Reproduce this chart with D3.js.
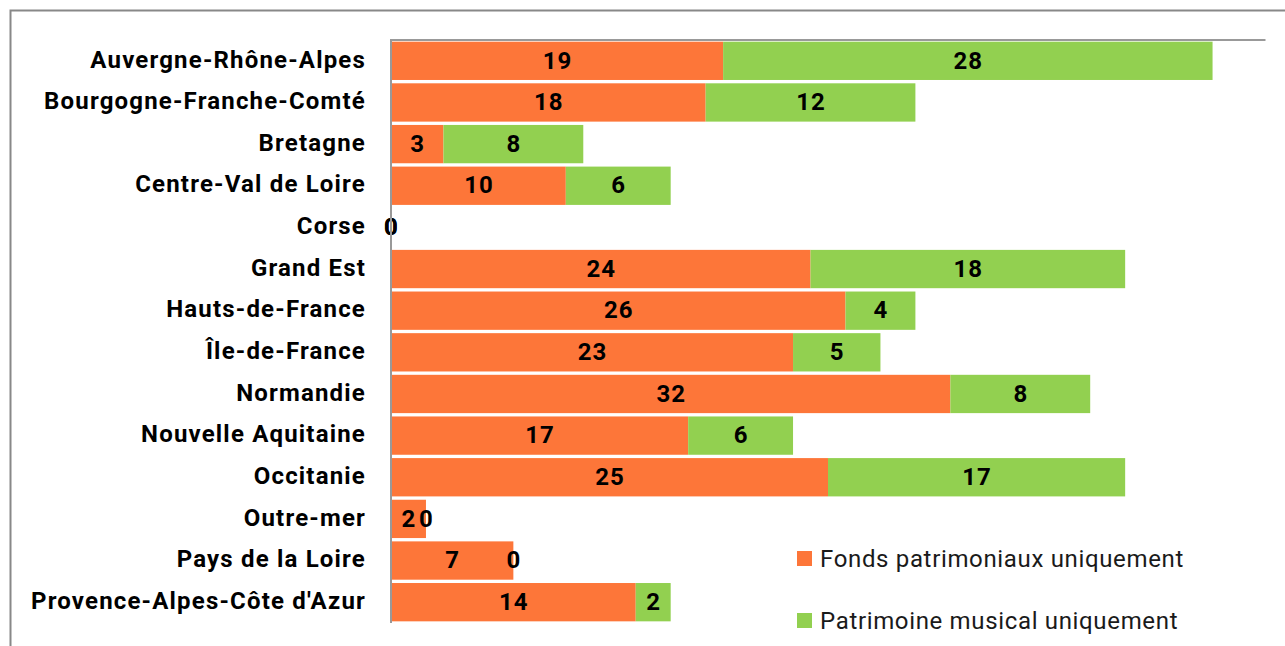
<!DOCTYPE html>
<html><head><meta charset="utf-8">
<script src="https://cdn.jsdelivr.net/npm/d3@7"></script>
<style>body{margin:0;background:#fff}svg{display:block}</style>
</head><body>
<script>
const categories = ["Auvergne-Rhône-Alpes","Bourgogne-Franche-Comté","Bretagne","Centre-Val de Loire","Corse","Grand Est","Hauts-de-France","Île-de-France","Normandie","Nouvelle Aquitaine","Occitanie","Outre-mer","Pays de la Loire","Provence-Alpes-Côte d'Azur"];
const fonds = [19,18,3,10,0,24,26,23,32,17,25,2,7,14];
const musical = [28,12,8,6,0,18,4,5,8,6,17,0,0,2];
const seriesNames = ["Fonds patrimoniaux uniquement","Patrimoine musical uniquement"];
const colors = ["#fd7639","#92d050"];

(function(){
const W=1285,H=646;
const svg=d3.select("body").append("svg").attr("width",W).attr("height",H);
svg.append("path").attr("d","M10.5,646 V10.5 H1285").attr("fill","none").attr("stroke","#888").attr("stroke-width",2);

const x=d3.scaleLinear().domain([0,50]).range([391,1265]);
const y=d3.scaleBand().domain(categories).range([40,623]).paddingInner(0.08).paddingOuter(0.04);

const data=categories.map((c,i)=>({c,a:fonds[i],b:musical[i]}));
const g=svg.append("g");
const font="Roboto, 'Liberation Sans', sans-serif";

data.forEach(d=>{
  g.append("rect").attr("x",x(0)).attr("y",y(d.c)).attr("width",x(d.a)-x(0)).attr("height",y.bandwidth()).attr("fill",colors[0]);
  g.append("rect").attr("x",x(d.a)).attr("y",y(d.c)).attr("width",x(d.a+d.b)-x(d.a)).attr("height",y.bandwidth()).attr("fill",colors[1]);
});
function valLabel(xc,cy,v){
  g.append("text").attr("x",xc).attr("y",cy).attr("dy","0.32em").attr("text-anchor","middle")
   .attr("font-family",font).attr("font-weight","bold").attr("font-size",24).attr("letter-spacing","1px").attr("fill","#000").text(v);
}
data.forEach(d=>{
  const cy=y(d.c)+y.bandwidth()/2;
  valLabel((x(0)+x(d.a))/2+0.5,cy,d.a);
  valLabel((x(d.a)+x(d.a+d.b))/2+0.5,cy,d.b);
});

const topAxis=svg.append("g").attr("transform","translate(0,39.5)").call(d3.axisTop(x).tickValues([]).tickSizeOuter(0));
topAxis.select(".domain").attr("stroke","#999").attr("stroke-width",2);
const leftAxis=svg.append("g").attr("transform","translate(391,0)").call(d3.axisLeft(y).tickSize(0).tickPadding(25).tickSizeOuter(0));
leftAxis.select(".domain").attr("stroke","#999").attr("stroke-width",2).attr("d","M0,39V623");
leftAxis.selectAll("text").attr("font-family",font).attr("font-weight","bold").attr("font-size",24).attr("fill","#000").attr("dy","0.28em");
const probe=leftAxis.selectAll("text").filter(d=>d==="Provence-Alpes-Côte d'Azur").node();
const w0=probe.getComputedTextLength();
const ls=Math.max(0,(335-w0)/("Provence-Alpes-Côte d'Azur".length));
leftAxis.selectAll("text").attr("letter-spacing",ls+"px");

const leg=svg.append("g");
seriesNames.forEach((s,i)=>{
  const ly=558.5+i*62;
  leg.append("rect").attr("x",797).attr("y",ly-7.5).attr("width",15).attr("height",15).attr("fill",colors[i]);
  const t=leg.append("text").attr("x",820).attr("y",ly+8.5).attr("font-family",font).attr("font-size",24).attr("fill","#1a1a1a").text(s);
  if(i===0){
    const w=t.node().getComputedTextLength();
    leg.attr("data-ls",Math.max(0,(364-w)/s.length));
  }
});
leg.selectAll("text").attr("letter-spacing",leg.attr("data-ls")+"px");
})();
</script>
</body></html>
